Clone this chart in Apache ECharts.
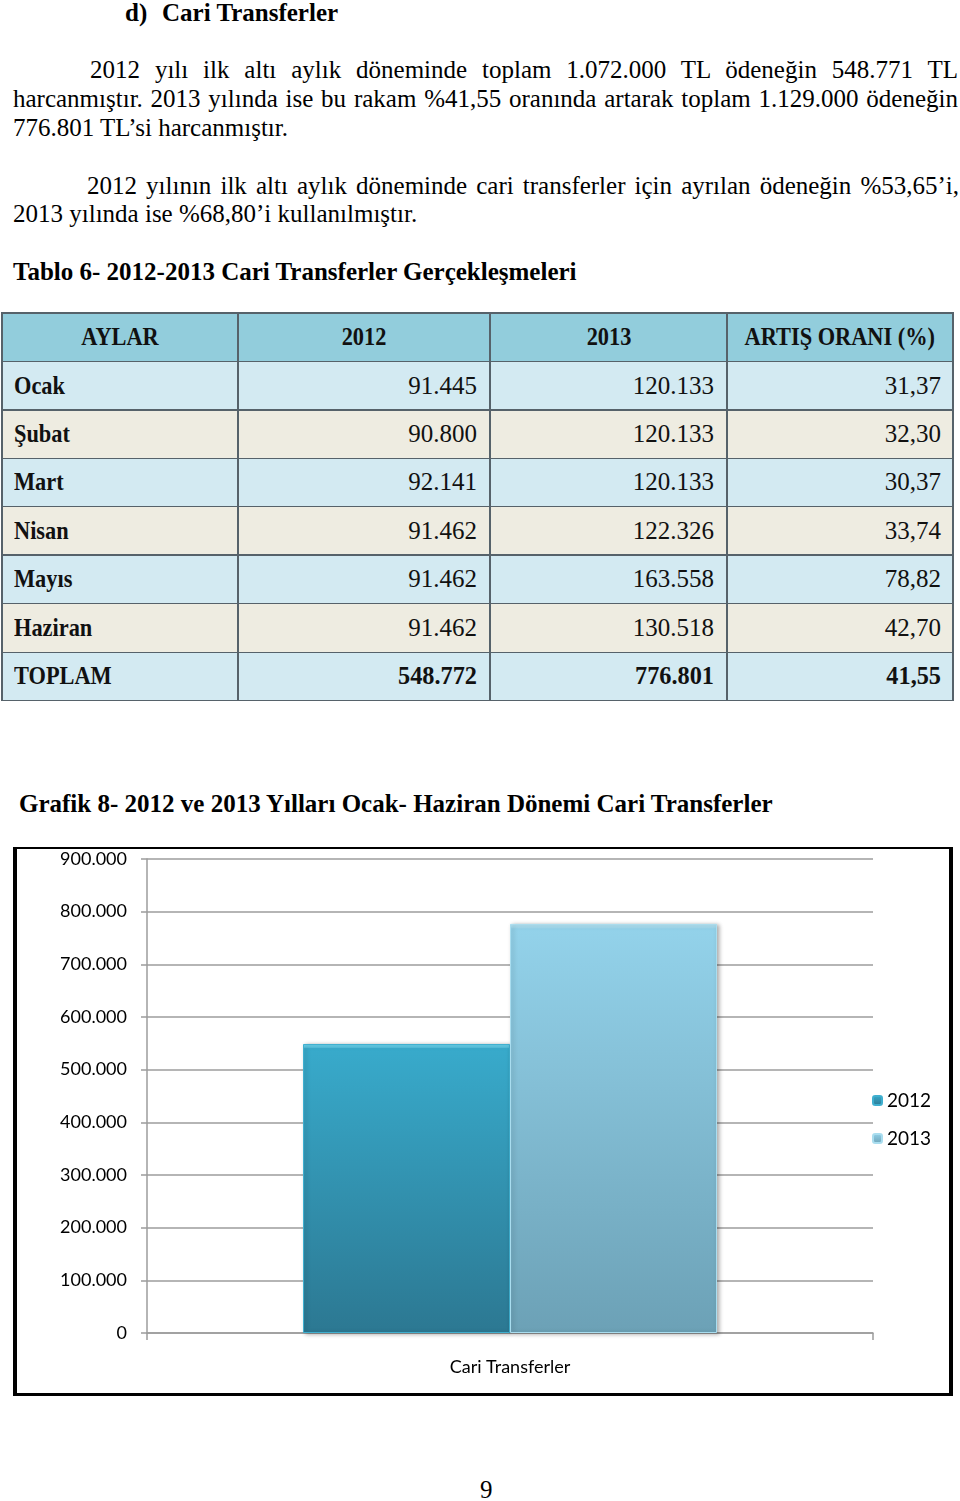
<!DOCTYPE html>
<html><head><meta charset="utf-8">
<script src="https://cdn.jsdelivr.net/npm/echarts@6/dist/echarts.min.js"></script>
<style>
html,body{margin:0;padding:0;background:#fff;}
#page{position:relative;width:960px;height:1501px;overflow:hidden;font-family:'Liberation Serif','Times New Roman',serif;color:#000;}
.ln{position:absolute;font-size:25px;line-height:29px;white-space:nowrap;}
.j{text-align:justify;text-align-last:justify;white-space:normal;}
.b{font-weight:bold;}
.cell{position:absolute;box-sizing:border-box;display:flex;align-items:center;font-size:25px;color:#111;white-space:nowrap;}
.lbl{font-weight:bold;font-size:26px;display:inline-block;transform:scaleX(0.86);}
.hline,.vline{position:absolute;background:#56626a;}
#frame{position:absolute;left:13px;top:847px;width:940px;height:549px;box-sizing:border-box;border-style:solid;border-color:#000;border-width:2px 4px 3px 4px;}
#chart{width:932px;height:544px;}
</style>
</head><body>
<div id="page">
  <div class="ln b" style="left:125px;top:-2px;">d)</div>
  <div class="ln b" style="left:162px;top:-2px;">Cari Transferler</div>

  <div class="ln j" style="left:90px;top:54.6px;width:868px;">2012 yılı ilk altı aylık döneminde toplam 1.072.000 TL ödeneğin 548.771 TL</div>
  <div class="ln j" style="left:13px;top:83.6px;width:945px;">harcanmıştır. 2013 yılında ise bu rakam %41,55 oranında artarak toplam 1.129.000 ödeneğin</div>
  <div class="ln" style="left:13px;top:112.6px;">776.801 TL’si harcanmıştır.</div>

  <div class="ln j" style="left:87px;top:170.8px;width:872px;">2012 yılının ilk altı aylık döneminde cari transferler için ayrılan ödeneğin %53,65’i,</div>
  <div class="ln" style="left:13px;top:199px;">2013 yılında ise %68,80’i kullanılmıştır.</div>

  <div class="ln b" style="left:13px;top:256.8px;">Tablo 6- 2012-2013 Cari Transferler Gerçekleşmeleri</div>

  <div id="table"></div>

  <div class="ln b" style="left:19px;top:789.3px;">Grafik 8- 2012 ve 2013 Yılları Ocak- Haziran Dönemi Cari Transferler</div>

  <div id="frame"><div id="chart"></div></div>

  <div class="ln" style="left:480px;top:1475.3px;">9</div>
</div>
<script>
// ---- data ----
const tableHeaders = ['AYLAR', '2012', '2013', 'ARTIŞ ORANI (%)'];
const months = ['Ocak', 'Şubat', 'Mart', 'Nisan', 'Mayıs', 'Haziran'];
const values2012 = [91445, 90800, 92141, 91462, 91462, 91462];
const values2013 = [120133, 120133, 120133, 122326, 163558, 130518];
const increaseRates = [31.37, 32.30, 30.37, 33.74, 78.82, 42.70];
const totalLabel = 'TOPLAM';
const total2012 = 548772;
const total2013 = 776801;
const totalRate = 41.55;

const categories = ['Cari Transferler'];
const seriesNames = ['2012', '2013'];
const chartValues2012 = [548772];
const chartValues2013 = [776801];
const yMin = 0, yMax = 900000, yInterval = 100000;

// ---- helpers ----
function fmtNum(v){ return String(v).replace(/\B(?=(\d{3})+(?!\d))/g, '.'); }
function fmtRate(v){ return v.toFixed(2).replace('.', ','); }

// ---- table ----
(function(){
  const colX = [2, 238, 490, 727, 953];
  const rowY = [313, 361.7, 410, 458.3, 506.7, 555, 603.3, 652.3, 700.7];
  const headBg = '#92CDDC', blue = '#D3EAF2', beige = '#EEECE1';
  const t = document.getElementById('table');
  const rows = [];
  rows.push({cells: tableHeaders, head:true});
  months.forEach((m,i)=>rows.push({cells:[m, fmtNum(values2012[i]), fmtNum(values2013[i]), fmtRate(increaseRates[i])]}));
  rows.push({cells:[totalLabel, fmtNum(total2012), fmtNum(total2013), fmtRate(totalRate)], total:true});
  rows.forEach((r,ri)=>{
    const bg = r.head ? headBg : ((ri-1)%2===0 ? blue : beige);
    r.cells.forEach((txt,ci)=>{
      const d = document.createElement('div');
      d.className = 'cell';
      d.style.left = colX[ci]+'px';
      d.style.top = rowY[ri]+'px';
      d.style.width = (colX[ci+1]-colX[ci])+'px';
      d.style.height = (rowY[ri+1]-rowY[ri])+'px';
      d.style.background = bg;
      if (r.head || ci===0){
        const s = document.createElement('span');
        s.className = 'lbl';
        s.textContent = txt;
        if (r.head){
          d.style.justifyContent = 'center';
          s.style.transformOrigin = 'center center';
        } else {
          d.style.paddingLeft = '12px';
          s.style.transformOrigin = 'left center';
        }
        d.appendChild(s);
      } else {
        d.style.justifyContent = 'flex-end';
        d.style.paddingRight = (ci===3 ? 12 : 13)+'px';
        if (r.total){ d.style.fontWeight='bold'; d.style.fontSize='24.3px'; }
        d.textContent = txt;
      }
      t.appendChild(d);
    });
  });
  rowY.forEach(y=>{
    const l=document.createElement('div'); l.className='hline';
    l.style.left=(colX[0]-0.75)+'px'; l.style.top=(y-0.75)+'px';
    l.style.width=(colX[colX.length-1]-colX[0]+1.5)+'px'; l.style.height='1.5px';
    t.appendChild(l);
  });
  colX.forEach(x=>{
    const l=document.createElement('div'); l.className='vline';
    l.style.left=(x-0.75)+'px'; l.style.top=(rowY[0]-0.75)+'px';
    l.style.width='1.5px'; l.style.height=(rowY[rowY.length-1]-rowY[0]+1.5)+'px';
    t.appendChild(l);
  });
})();

// ---- chart ----
const chart = echarts.init(document.getElementById('chart'), null, {renderer:'canvas'});
const gridColor = '#9c9c9c';
chart.setOption({
  animation:false,
  backgroundColor:'#fff',
  textStyle:{fontFamily:'Lato'},
  grid:{left:130, right:76, top:10, bottom:60},
  legend:{
    orient:'vertical', left:855, top:241.5, padding:0,
    itemWidth:9, itemHeight:9, itemGap:18,
    textStyle:{fontFamily:'Lato', fontSize:19, color:'#000', lineHeight:20},
    data:seriesNames
  },
  xAxis:{
    type:'category', data:categories,
    axisLine:{lineStyle:{color:gridColor, width:1.5}},
    axisTick:{show:true, length:7, lineStyle:{color:gridColor, width:1.5}},
    axisLabel:{margin:25, fontSize:18, color:'#000', fontFamily:'Lato'}
  },
  yAxis:{
    type:'value', min:yMin, max:yMax, interval:yInterval,
    axisLine:{show:true, lineStyle:{color:gridColor, width:1.5}},
    axisTick:{show:true, length:6, lineStyle:{color:gridColor, width:1.5}},
    splitLine:{lineStyle:{color:gridColor, width:1.5}},
    axisLabel:{margin:20, fontSize:18, color:'#000', fontFamily:'Lato', formatter:v=>fmtNum(v)}
  },
  series:[
    {
      name:seriesNames[0], type:'bar', data:chartValues2012, barWidth:207, barGap:'0%',
      itemStyle:{
        color:new echarts.graphic.LinearGradient(0,0,0,1,[
          {offset:0,color:'#6AD3EC'},{offset:0.011,color:'#5CC6E2'},{offset:0.016,color:'#38AACB'},{offset:1,color:'#2C7892'}]),
        borderColor:'#3FAFCF', borderWidth:1,
        shadowColor:'rgba(0,0,0,0.3)', shadowBlur:4, shadowOffsetX:2, shadowOffsetY:1
      }
    },
    {
      name:seriesNames[1], type:'bar', data:chartValues2013, barWidth:207,
      itemStyle:{
        color:new echarts.graphic.LinearGradient(0,0,0,1,[
          {offset:0,color:'#B4E4F4'},{offset:0.008,color:'#A8DDF0'},{offset:0.012,color:'#93D2EA'},{offset:1,color:'#6CA1B6'}]),
        borderColor:'#A9DDEF', borderWidth:1,
        shadowColor:'rgba(0,0,0,0.3)', shadowBlur:4, shadowOffsetX:2, shadowOffsetY:1
      }
    }
  ]
});
</script>
</body></html>
